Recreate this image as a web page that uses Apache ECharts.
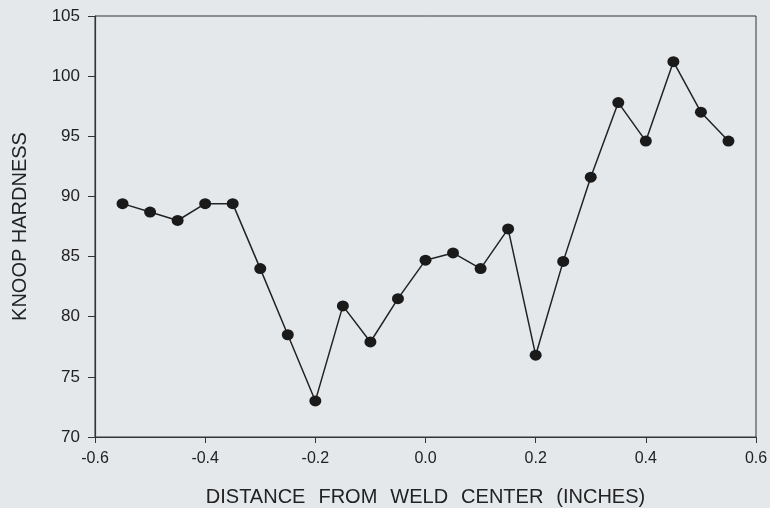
<!DOCTYPE html>
<html>
<head>
<meta charset="utf-8">
<script src="https://cdn.jsdelivr.net/npm/echarts@6/dist/echarts.min.js"></script>
<style>
html,body{margin:0;padding:0;background:#e5e8eb;}
#chart{width:770px;height:508px;}
</style>
</head>
<body>
<div id="chart"></div>
<script>
var distances = [-0.55,-0.5,-0.45,-0.4,-0.35,-0.3,-0.25,-0.2,-0.15,-0.1,-0.05,0.0,0.05,0.1,0.15,0.2,0.25,0.3,0.35,0.4,0.45,0.5,0.55];
var hardness = [89.4,88.7,88.0,89.4,89.4,84.0,78.5,73.0,80.9,77.9,81.5,84.7,85.3,84.0,87.3,76.8,84.6,91.6,97.8,94.6,101.2,97.0,94.6];
var xTitleWords = ['DISTANCE', 'FROM', 'WELD', 'CENTER', '(INCHES)'];
var yTitle = 'KNOOP HARDNESS';

var points = distances.map(function(d, i){ return [d, hardness[i]]; });
var font = 'Liberation Sans, Arial, Helvetica, sans-serif';
var xTitle = xTitleWords.join('{g| }');
var chart = echarts.init(document.getElementById('chart'));
chart.setOption({
  backgroundColor: '#e5e8eb',
  animation: false,
  grid: {left: 95, top: 16, right: 14, bottom: 71, outerBoundsMode: 'none', containLabel: false,
    show: true, borderColor: '#333', borderWidth: 1, backgroundColor: 'transparent'},
  xAxis: {
    type: 'value', min: -0.6, max: 0.6, interval: 0.2,
    name: xTitle, nameLocation: 'middle', nameGap: 50,
    nameTextStyle: {fontFamily: font, fontSize: 20, color: '#222',
      rich: {g: {width: 13, fontSize: 20, fontFamily: font}}},
    axisLine: {show: true, onZero: false, lineStyle: {color: '#333', width: 1.2}},
    axisTick: {show: true, length: 6, lineStyle: {color: '#333'}},
    axisLabel: {fontFamily: font, fontSize: 16, color: '#222', margin: 14, formatter: function(v){ return v.toFixed(1); }},
    splitLine: {show: false}
  },
  yAxis: {
    type: 'value', min: 70, max: 105, interval: 5,
    name: yTitle, nameLocation: 'middle', nameGap: 65, nameRotate: 90,
    nameTextStyle: {fontFamily: font, fontSize: 20, color: '#222'},
    axisLine: {show: true, onZero: false, lineStyle: {color: '#333', width: 1.2}},
    axisTick: {show: true, length: 7, lineStyle: {color: '#333'}},
    axisLabel: {fontFamily: font, fontSize: 17, color: '#222', margin: 15},
    splitLine: {show: false}
  },
  series: [{
    type: 'line',
    data: points,
    symbol: 'circle',
    symbolSize: [12, 11],
    itemStyle: {color: '#1a1a1a'},
    lineStyle: {color: '#222', width: 1.5}
  }]
});
</script>
</body>
</html>
